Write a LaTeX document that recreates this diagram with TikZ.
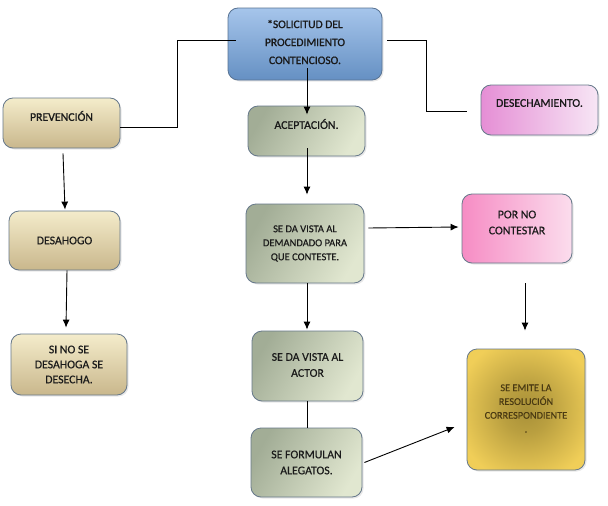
\documentclass[tikz,border=0pt]{standalone}
\usepackage{fontspec}
\setmainfont{Carlito}[FakeBold=0.35]
\newfontfamily\boldish{Carlito}[FakeBold=1.1]
\usetikzlibrary{arrows.meta,shadows}
\definecolor{bluetop}{HTML}{A6C5EB}
\definecolor{bluebot}{HTML}{6590C3}
\definecolor{blueedge}{HTML}{587393}
\definecolor{tantop}{HTML}{F4ECCB}
\definecolor{tanbot}{HTML}{C9B78C}
\definecolor{greydark}{HTML}{A2AD96}
\definecolor{greylight}{HTML}{E1E7D0}
\definecolor{pinkaL}{HTML}{E58ED5}
\definecolor{pinkaR}{HTML}{F7E6F5}
\definecolor{pinkbL}{HTML}{F68CC4}
\definecolor{pinkbR}{HTML}{FBDDED}
\definecolor{goldin}{HTML}{A89038}
\definecolor{goldout}{HTML}{F0CE58}
\definecolor{edgegrey}{HTML}{66788A}
\definecolor{txtcol}{HTML}{1A1A1A}
\definecolor{browntxt}{HTML}{4A3A12}
\pgfdeclareradialshading{goldshade}{\pgfpoint{0bp}{0bp}}{%
  color(0bp)=(goldin); color(10bp)=(goldin!75!goldout); color(30bp)=(goldout); color(50bp)=(goldout)}
\tikzset{
  boxbase/.style={rectangle, rounded corners=10pt, draw=edgegrey, line width=0.8pt,
    inner sep=0pt, drop shadow={opacity=0.18, shadow xshift=1.5pt, shadow yshift=-1.5pt}},
  bluebox/.style={boxbase, draw=blueedge, top color=bluetop, bottom color=bluebot},
  tanbox/.style={boxbase, top color=tantop, bottom color=tanbot},
  greybox/.style={boxbase, left color=greydark, right color=greylight, shading angle=60},
  pinkabox/.style={boxbase, left color=pinkaL, right color=pinkaR},
  pinkbbox/.style={boxbase, left color=pinkbL, right color=pinkbR},
  goldbox/.style={boxbase, shade, shading=goldshade},
  lbl/.style={align=center, text=txtcol, inner sep=0pt, font=\fontsize{11.8}{16}\selectfont},
  blbl/.style={lbl, font=\boldish\fontsize{11.8}{16}\selectfont},
  conn/.style={line width=0.9pt, black},
  arr/.style={conn, -{Latex[length=8pt,width=7pt]}}
}
\begin{document}
\begin{tikzpicture}[x=1pt,y=-1pt]
\useasboundingbox (0,0) rectangle (608,506);
\fill[white] (0,0) rectangle (608,506);
% boxes
\node[bluebox, minimum width=154pt, minimum height=72pt] (sol) at (305,44) {};
\node[tanbox, minimum width=117pt, minimum height=50pt] (prev) at (61.5,123) {};
\node[pinkabox, minimum width=117pt, minimum height=50pt] (desech) at (539.5,110) {};
\node[greybox, minimum width=117pt, minimum height=50pt] (acep) at (306.5,131) {};
\node[greybox, minimum width=118pt, minimum height=79pt] (dem) at (305,243.5) {};
\node[tanbox, minimum width=111pt, minimum height=59pt] (desa) at (64.5,240.5) {};
\node[pinkbbox, minimum width=110pt, minimum height=69pt] (porno) at (517,228.5) {};
\node[tanbox, minimum width=116pt, minimum height=61pt] (sino) at (69,364.5) {};
\node[greybox, minimum width=111pt, minimum height=70pt] (actor) at (307.5,366) {};
\node[greybox, minimum width=111pt, minimum height=69pt] (aleg) at (306.5,462.5) {};
\node[goldbox, minimum width=118pt, minimum height=121pt] (emite) at (526,409.5) {};
% texts
\node[blbl, font=\boldish\fontsize{11.5}{18}\selectfont] (solt) at ([shift={(0,-2)}]sol.center) {*SOLICITUD DEL\\PROCEDIMIENTO\\CONTENCIOSO.};
\node[blbl] (prevt) at ([shift={(0,-7)}]prev.center) {PREVENCIÓN};
\node[blbl] (desecht) at ([shift={(0,-7)}]desech.center) {DESECHAMIENTO.};
\node[blbl] (acept) at ([shift={(0,-7)}]acep.center) {ACEPTACIÓN.};
\node[lbl, font=\fontsize{10.5}{14}\selectfont] (demt) at (dem.center) {SE DA VISTA AL\\DEMANDADO PARA\\QUE CONTESTE.};
\node[lbl] (desat) at (desa.center) {DESAHOGO};
\node[lbl] (pornot) at ([shift={(0,-6)}]porno.center) {POR NO\\CONTESTAR};
\node[lbl, font=\fontsize{11.8}{15}\selectfont] (sinot) at (sino.center) {SI NO SE\\DESAHOGA SE\\DESECHA.};
\node[lbl] (actort) at ([shift={(0,-1)}]actor.center) {SE DA VISTA AL\\ACTOR};
\node[lbl] (alegt) at (aleg.center) {SE FORMULAN\\ALEGATOS.};
\node[lbl, text=browntxt, font=\fontsize{10.3}{13.8}\selectfont] (emitet) at ([shift={(0,-1)}]emite.center) {SE EMITE LA\\RESOLUCIÓN\\CORRESPONDIENTE\\.};
% connectors
\draw[conn] ([shift={(8,-4)}]sol.west) -- ++(-58,0) |- ([shift={(0,4)}]prev.east);
\draw[conn] ([shift={(5,-4)}]sol.east) -| ([shift={(-54,1)}]desech.west) -- ([shift={(-14,1)}]desech.west);
\draw[arr] ([shift={(2,-12)}]sol.south) -- ([shift={(0.5,9)}]acep.north);
\draw[arr] ([shift={(0.5,-8)}]acep.south) -- ([shift={(2,-9)}]dem.north);
\draw[arr] ([shift={(1.5,5)}]prev.south) -- ([shift={(0.5,-1)}]desa.north);
\draw[arr] ([shift={(2.5,0)}]desa.south) -- ([shift={(-3,-6)}]sino.north);
\draw[arr] ([shift={(4,-15.5)}]dem.east) -- ([shift={(-3,-1.5)}]porno.west);
\draw[arr] ([shift={(2,0)}]dem.south) -- ([shift={(-0.5,-1)}]actor.north);
\draw[conn] ([shift={(-0.5,0)}]actor.south) -- ([shift={(0.5,0)}]aleg.north);
\draw[arr] ([shift={(8,20)}]porno.south) -- ([shift={(-1,-18)}]emite.north);
\draw[arr] ([shift={(2,0)}]aleg.east) -- ([shift={(-12,17.5)}]emite.west);
\end{tikzpicture}
\end{document}
